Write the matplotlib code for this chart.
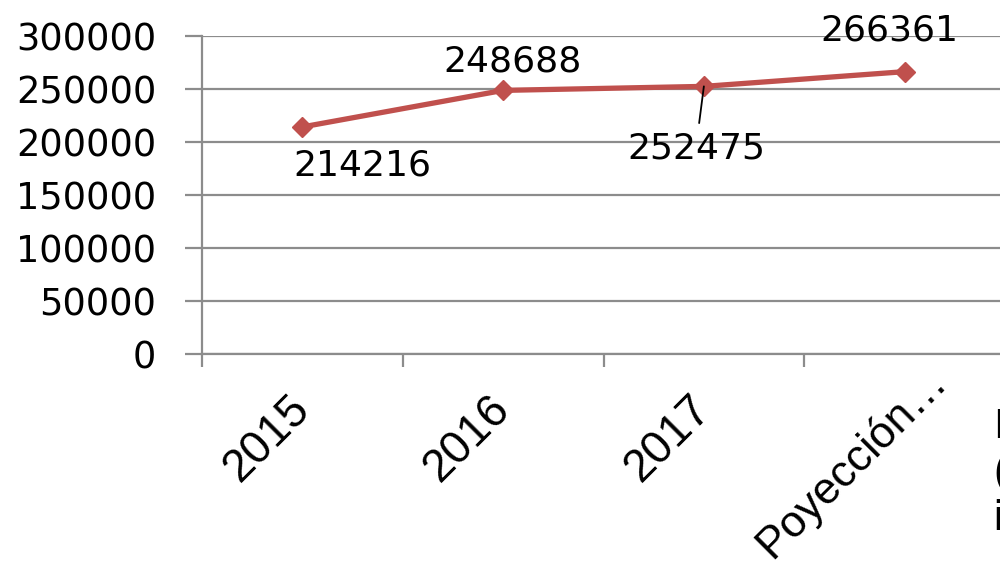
import matplotlib
matplotlib.use("Agg")
import matplotlib.pyplot as plt
import matplotlib.transforms as mtransforms
from matplotlib.ticker import MultipleLocator, FixedLocator

# Series data
categories = ["2015", "2016", "2017", "Poyección…"]
values = [214216, 248688, 252475, 266361]
# label offsets (pixels) relative to each point
label_offsets = [(60, -39), (9, 29), (-8, -62), (-15, 41)]
legend_lines = ["Ingresos", "(miles)", "ingresados"]

DPI = 100
fig = plt.figure(figsize=(10.0, 5.68), dpi=DPI)
ax = fig.add_axes([0.202, 1 - 354 / 568, 1.005 - 0.202, (354 - 36) / 568])

line_color = "#C0504D"
grid_color = "#8C8C8C"

x = list(range(len(categories)))
ax.plot(x, values, color=line_color, lw=3.8, marker="D", markersize=10,
        markeredgecolor=line_color, markerfacecolor=line_color, zorder=3,
        clip_on=False)

ax.set_xlim(-0.5, len(categories) - 0.5)
ax.set_ylim(0, 300000)
ax.yaxis.set_major_locator(MultipleLocator(50000))
ax.grid(axis="y", color=grid_color, lw=1.6)
ax.set_axisbelow(True)

for s in ["top", "right"]:
    ax.spines[s].set_visible(False)
for s in ["left", "bottom"]:
    ax.spines[s].set_color(grid_color)
    ax.spines[s].set_linewidth(1.6)

ax.tick_params(axis="y", length=12, width=1.6, color=grid_color, pad=21,
               labelsize=26.5)
for lab in ax.get_yticklabels():
    lab.set_family("DejaVu Sans")

# category ticks at boundaries, labels at centres
ax.xaxis.set_major_locator(FixedLocator(x))
ax.xaxis.set_minor_locator(FixedLocator([i - 0.5 for i in range(len(categories) + 1)]))
ax.tick_params(axis="x", which="major", length=0, pad=24)
ax.tick_params(axis="x", which="minor", length=9, width=1.6, color=grid_color)
ax.set_xticklabels(categories, rotation=45, ha="right", rotation_mode="anchor",
                   fontsize=33, family="Liberation Sans")
xlabels = ax.get_xticklabels()
for k, lab in enumerate(xlabels):
    if k < len(xlabels) - 1:
        dx, dy = -15, 0
    else:
        dx, dy = 20, 28
        lab.set_fontsize(32)
    lab.set_transform(lab.get_transform() +
                      mtransforms.ScaledTranslation(dx / DPI, dy / DPI, fig.dpi_scale_trans))

# data labels
for i, (v, off) in enumerate(zip(values, label_offsets)):
    kw = {}
    if i == 2:
        kw["arrowprops"] = dict(arrowstyle="-", color="black", lw=1.3,
                                shrinkA=4, shrinkB=0)
    ax.annotate(f"{v}", (x[i], v), xytext=off, textcoords="offset pixels",
                ha="center", va="center", fontsize=26, family="DejaVu Sans",
                color="black", zorder=4, annotation_clip=False, **kw)

# legend text at the right edge
for j, t in enumerate(legend_lines):
    fig.text(0.993, 1 - (438 + j * 46) / 568, t, fontsize=30,
             family="Liberation Sans", ha="left", va="baseline")

fig.savefig("out.png", dpi=DPI)
